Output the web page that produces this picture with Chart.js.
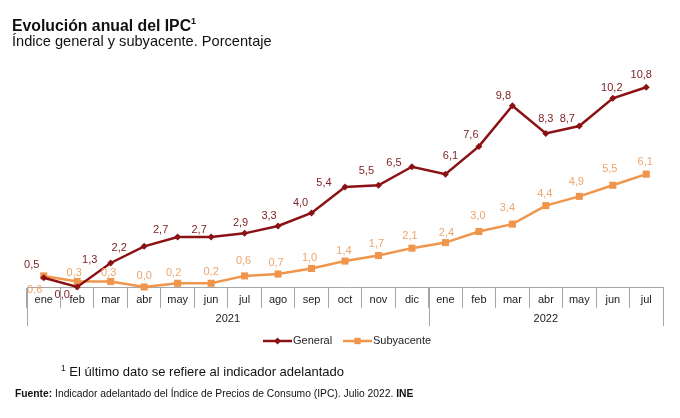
<!DOCTYPE html>
<html>
<head>
<meta charset="utf-8">
<script src="https://cdn.jsdelivr.net/npm/chart.js@4/dist/chart.umd.min.js"></script>
<style>
  html, body { margin: 0; padding: 0; background: #fff; }
  #wrap { position: relative; width: 680px; height: 418px; overflow: hidden; font-family: "Liberation Sans", Arial, sans-serif; color: #111; }
  #c { position: absolute; left: 0; top: 0; }
  .t { position: absolute; white-space: nowrap; line-height: 1; }
  #title { left: 12px; top: 17.5px; font-size: 15.8px; font-weight: bold; }
  #title sup { font-size: 9px; vertical-align: 0; position: relative; top: -7px; }
  #sub { left: 12px; top: 33.6px; font-size: 14.6px; }
  #note { left: 61px; top: 364.5px; font-size: 13px; }
  #note sup { font-size: 8.5px; vertical-align: 0; position: relative; top: -5px; }
  #src { left: 15px; top: 389px; font-size: 10.3px; }
</style>
</head>
<body>
<div id="wrap">
  <canvas id="c" width="680" height="418"></canvas>
  <div class="t" id="title">Evolución anual del IPC<sup>1</sup></div>
  <div class="t" id="sub">Índice general y subyacente. Porcentaje</div>
  <div class="t" id="note"><sup>1</sup> El último dato se refiere al indicador adelantado</div>
  <div class="t" id="src"><b>Fuente:</b> Indicador adelantado del Índice de Precios de Consumo (IPC). Julio 2022. <b>INE</b></div>
</div>
<script>
const months = ["ene","feb","mar","abr","may","jun","jul","ago","sep","oct","nov","dic",
                "ene","feb","mar","abr","may","jun","jul"];
const years = ["2021", "2022"];
const monthsPerYear = [12, 7];
const general = [0.5, 0.0, 1.3, 2.2, 2.7, 2.7, 2.9, 3.3, 4.0, 5.4, 5.5, 6.5,
                 6.1, 7.6, 9.8, 8.3, 8.7, 10.2, 10.8];
const subyacente = [0.6, 0.3, 0.3, 0.0, 0.2, 0.2, 0.6, 0.7, 1.0, 1.4, 1.7, 2.1,
                    2.4, 3.0, 3.4, 4.4, 4.9, 5.5, 6.1];

// label placement (style only)
const generalLabelOffsets = [[-12,-13],[-15,8],[-21,-3],[-25,2],[-17,-7],[-12,-7],[-4,-10],[-9,-10],[-11,-10],
  [-21,-4],[-12,-14],[-18,-4],[5,-18],[-8,-11],[-9,-10],[0,-14],[-12,-7],[-1,-10],[-5,-12]];
const subLabelOffsets = [[-9,14],[-3,-8],[-2,-8],[0,-11],[-4,-10],[0,-11],[-1,-15],[-2,-11],[-2,-11],
  [-1,-10],[-2,-12],[-2,-12],[1,-10],[-1,-16],[-5,-16],[-1,-12],[-3,-14],[-3,-16],[-1,-12]];

const GEN = '#8B1214';
const GEN_LBL = '#7E2426';
const SUB = '#F0964C';
const SUB_LBL = '#EDA56C';
const AXIS = '#A6A6A6';
const FONT = '"Liberation Sans", Arial, sans-serif';

const fmt = v => v.toFixed(1).replace('.', ',');

const labelsPlugin = {
  id: 'valueLabels',
  afterDatasetsDraw(chart) {
    const ctx = chart.ctx;
    ctx.save();
    ctx.font = '11px ' + FONT;
    ctx.textAlign = 'center';
    ctx.textBaseline = 'middle';
    const offs = [generalLabelOffsets, subLabelOffsets];
    const cols = [GEN_LBL, SUB_LBL];
    chart.data.datasets.forEach((ds, di) => {
      const meta = chart.getDatasetMeta(di);
      ctx.fillStyle = cols[di];
      meta.data.forEach((pt, i) => {
        const o = offs[di][i] || [0, -12];
        ctx.fillText(fmt(ds.data[i]), pt.x + o[0], pt.y + o[1]);
      });
    });
    ctx.restore();
  }
};

const axisPlugin = {
  id: 'yearAxis',
  afterDraw(chart) {
    const ctx = chart.ctx;
    const xs = chart.scales.x;
    const top = xs.top;
    const bottom = top + 39;
    const half = (xs.getPixelForValue(1) - xs.getPixelForValue(0)) / 2;
    ctx.save();
    ctx.strokeStyle = AXIS;
    ctx.lineWidth = 1;
    let start = 0;
    const bounds = [xs.getPixelForValue(0) - half];
    monthsPerYear.forEach(n => {
      start += n;
      bounds.push(xs.getPixelForValue(start - 1) + half);
    });
    bounds.forEach(b => {
      const x = Math.round(b) + 0.5;
      ctx.beginPath();
      ctx.moveTo(x, top);
      ctx.lineTo(x, bottom);
      ctx.stroke();
    });
    ctx.fillStyle = '#222';
    ctx.font = '11px ' + FONT;
    ctx.textAlign = 'center';
    ctx.textBaseline = 'middle';
    years.forEach((y, i) => {
      ctx.fillText(y, (bounds[i] + bounds[i + 1]) / 2, top + 32);
    });

    // legend
    const ly = 341;
    const items = [
      {x: 263, color: GEN, text: 'General', style: 'rectRot', r: 3.5},
      {x: 343, color: SUB, text: 'Subyacente', style: 'rect', r: 4.5}
    ];
    items.forEach(it => {
      ctx.strokeStyle = it.color;
      ctx.lineWidth = 2.5;
      ctx.beginPath();
      ctx.moveTo(it.x, ly);
      ctx.lineTo(it.x + 29, ly);
      ctx.stroke();
      ctx.fillStyle = it.color;
      Chart.helpers.drawPoint(ctx, {pointStyle: it.style, radius: it.r, borderWidth: 0}, it.x + 14.5, ly);
      ctx.fillStyle = '#222';
      ctx.textAlign = 'left';
      ctx.fillText(it.text, it.x + 30, ly);
    });
    ctx.restore();
  }
};

new Chart(document.getElementById('c'), {
  type: 'line',
  data: {
    labels: months,
    datasets: [
      {
        label: 'General', data: general, borderColor: GEN, backgroundColor: GEN,
        borderWidth: 2.5, pointStyle: 'rectRot', pointRadius: 3.5, pointBorderWidth: 0,
        pointBackgroundColor: GEN, tension: 0, clip: false
      },
      {
        label: 'Subyacente', data: subyacente, borderColor: SUB, backgroundColor: SUB,
        borderWidth: 2.5, pointStyle: 'rect', pointRadius: 5, pointBorderWidth: 0,
        pointBackgroundColor: SUB, tension: 0, clip: false
      }
    ]
  },
  options: {
    responsive: false,
    animation: false,
    events: [],
    layout: { padding: { left: 27, right: 17, top: 65, bottom: 91 } },
    plugins: { legend: { display: false }, tooltip: { enabled: false } },
    scales: {
      x: {
        offset: true,
        grid: { offset: true, drawOnChartArea: false, drawTicks: true, tickLength: 21, color: AXIS, lineWidth: 1 },
        border: { display: true, color: AXIS, width: 1 },
        ticks: { color: '#222', font: { family: FONT, size: 11 }, padding: -15, maxRotation: 0, autoSkip: false },
        afterFit: s => { s.height = 40; }
      },
      y: {
        display: false, min: 0, max: 12
      }
    }
  },
  plugins: [labelsPlugin, axisPlugin]
});
</script>
</body>
</html>
